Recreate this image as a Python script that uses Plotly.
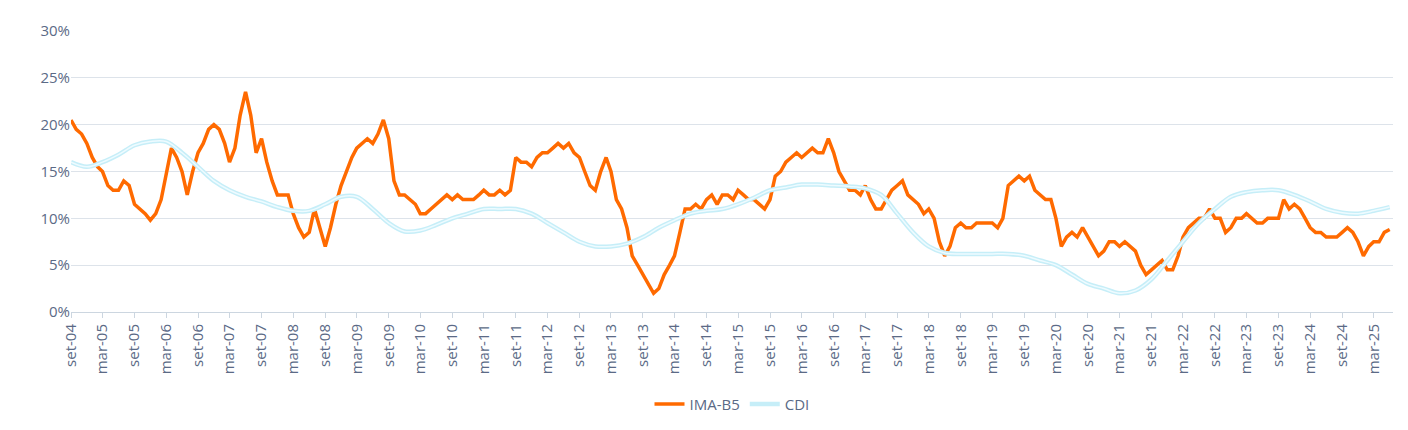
import plotly.graph_objects as go
import pandas as pd

ima_start = "2004-09-01"
ima_vals = [20.5,19.5,19,18,
16.5,15.5,15,13.5,13,13,14,13.5,11.5,11,10.5,9.8,
10.5,12,14.5,17.5,16.5,15,12.5,15,17,18,19.5,20,
19.5,18,16,17.5,21,23.5,21,17,18.5,16,14,12.5,
12.5,12.5,10.5,9,8,8.5,11,9,7,9,11.5,13.5,
15,16.5,17.5,18,18.5,18,19,20.5,18.5,14,12.5,12.5,
12,11.5,10.5,10.5,11,11.5,12,12.5,12,12.5,12,12,
12,12.5,13,12.5,12.5,13,12.5,13,16.5,16,16,15.5,
16.5,17,17,17.5,18,17.5,18,17,16.5,15,13.5,13,
15,16.5,15,12,11,9,6,5,4,3,2,2.5,
4,5,6,8.5,11,11,11.5,11,12,12.5,11.5,12.5,
12.5,12,13,12.5,12,12,11.5,11,12,14.5,15,16,
16.5,17,16.5,17,17.5,17,17,18.5,17,15,14,13,
13,12.5,13.5,12,11,11,12,13,13.5,14,12.5,12,
11.5,10.5,11,10,7.5,6,7,9,9.5,9,9,9.5,
9.5,9.5,9.5,9,10,13.5,14,14.5,14,14.5,13,12.5,
12,12,10,7,8,8.5,8,9,8,7,6,6.5,
7.5,7.5,7,7.5,7,6.5,5,4,4.5,5,5.5,4.5,
4.5,6,8,9,9.5,10,10,11,10,10,8.5,9,
10,10,10.5,10,9.5,9.5,10,10,10,12,11,11.5,
11,10,9,8.5,8.5,8,8,8,8.5,9,8.5,7.5,
6,7,7.5,7.5,8.5,8.8]
ima_dates = pd.date_range(ima_start, periods=len(ima_vals), freq="MS")

cdi_vals = [16,15.5,16,16.8,17.8,18.2,18.2,17,15.5,14,13,12.3,11.8,11.2,10.8,10.8,11.5,12.3,12.3,11,9.5,8.6,8.7,9.3,10,10.5,11,11,11,10.5,9.5,8.5,7.5,7.0,7,7.3,8,9,9.8,10.5,10.8,11,11.5,12.2,13,13.3,13.6,13.6,13.5,13.4,13.2,12.5,10.5,8.5,7,6.3,6.2,6.2,6.2,6.2,6,5.5,5,4,3,2.5,2,2.3,3.5,5.5,7.5,9.5,11,12.3,12.8,13,13,12.5,11.8,11,10.6,10.5,10.8,11.2]
cdi_dates = pd.date_range("2004-09-01", periods=len(cdi_vals), freq="3MS")

mes = {3: "mar", 9: "set"}
tick_dates = pd.date_range("2004-09-01", "2025-03-01", freq="6MS")
tick_text = [f"{mes[d.month]}-{d.year % 100:02d}" for d in tick_dates]

fig = go.Figure()
fig.add_trace(go.Scatter(x=ima_dates, y=ima_vals, name="IMA-B5", mode="lines",
                         line=dict(color="#ff6a00", width=3.5)))
fig.add_trace(go.Scatter(x=cdi_dates, y=cdi_vals, name="CDI", mode="lines",
                         line=dict(color="#c6eef8", width=4.5, shape="spline")))
fig.add_trace(go.Scatter(x=cdi_dates, y=cdi_vals, showlegend=False, mode="lines",
                         hoverinfo="skip", line=dict(color="#eefbff", width=1.5, shape="spline")))

fig.update_layout(
    width=1408, height=430, paper_bgcolor="white", plot_bgcolor="white",
    margin=dict(l=63, r=23, t=14, b=126),
    font=dict(family="Open Sans", color="#5b6a86", size=15),
    legend=dict(orientation="h", x=0.5, xanchor="center", y=-0.27, yanchor="top",
                font=dict(size=15)),
    xaxis=dict(tickvals=tick_dates, ticktext=tick_text, tickangle=-90,
               range=["2004-09-01", "2025-06-20"], showgrid=False,
               showline=True, linecolor="#ccd6e0", ticks="outside", ticklen=5,
               tickcolor="#ccd6e0"),
    yaxis=dict(range=[0, 30], dtick=5, ticksuffix="%", gridcolor="#dde3ea",
               zeroline=False, showline=False),
)
fig.write_html("out.html")
